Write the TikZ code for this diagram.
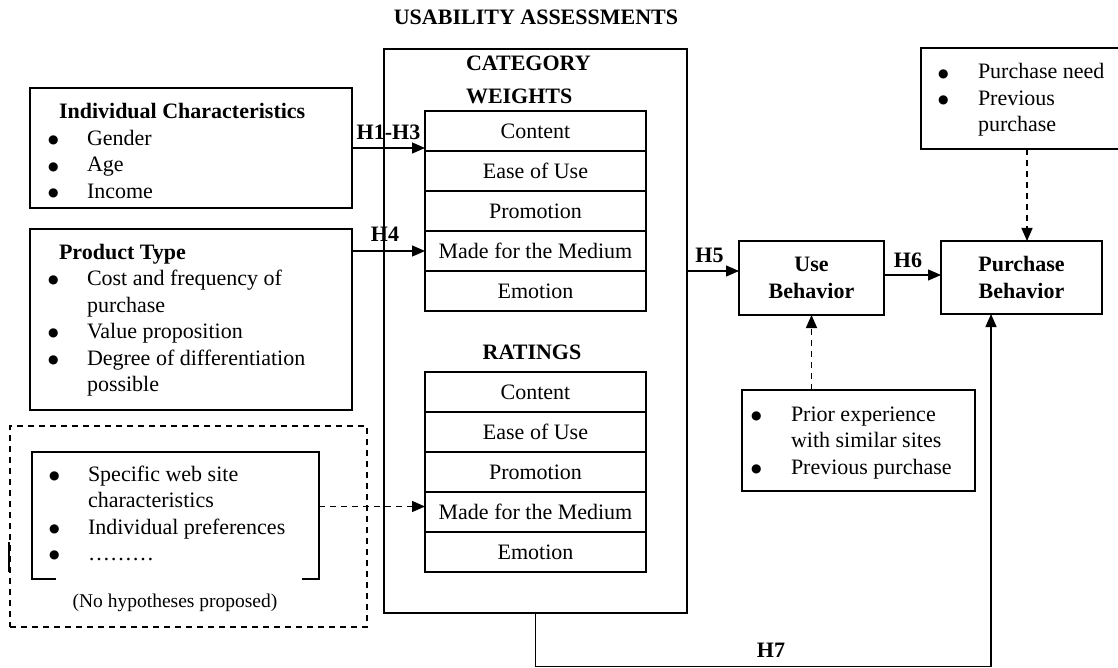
\documentclass[tikz,border=0pt]{standalone}
\usepackage{fontspec}
\setmainfont{Liberation Serif}
\newfontfamily\dotfont{DejaVu Sans}
\usetikzlibrary{arrows.meta,calc}
\newcommand{\txt}{\fontsize{22}{26.5}\selectfont}
\newcommand{\smalltxt}{\fontsize{19.5}{23}\selectfont}
\newcommand{\blt}{\raisebox{1.6pt}{\dotfont\fontsize{12}{12}\selectfont ●}}

\begin{document}
\begin{tikzpicture}[x=1pt,y=-1pt,
  every node/.style={inner sep=0pt, outer sep=0pt},
  frame/.style={draw, line width=1.3pt, anchor=north west},
  cell/.style={draw, line width=1.3pt, anchor=north west,
    minimum width=221pt, minimum height=40pt, font=\txt},
  listtxt/.style={anchor=base west, font=\txt},
  headtxt/.style={anchor=base, font=\txt\bfseries},
  arr/.style={line width=1.3pt, -{Triangle[length=13pt,width=11pt]}},
  darr/.style={arr, dash pattern=on 6pt off 5pt},
  dline/.style={line width=1.3pt, dash pattern=on 6pt off 5pt}]

\useasboundingbox (0,0) rectangle (1118,668);
\clip (0,0) rectangle (1118,668);

% title
\node[headtxt] (title) at (536,25) {USABILITY ASSESSMENTS};

% left-hand input boxes
\node[frame, minimum width=322pt, minimum height=120pt] (ind) at (30,88) {};
\node[listtxt] (indtxt) at (48,119) {\begin{tabular}[t]{@{}p{39pt}@{}l@{}}
  \multicolumn{2}{@{\hspace{11pt}}l@{}}{\bfseries Individual Characteristics}\\
  \blt & Gender\\
  \blt & Age\\
  \blt & Income
\end{tabular}};

\node[frame, minimum width=322pt, minimum height=181pt] (prod) at (30,229) {};
\node[listtxt] (prodtxt) at (48,259) {\begin{tabular}[t]{@{}p{39pt}@{}l@{}}
  \multicolumn{2}{@{\hspace{11pt}}l@{}}{\bfseries Product Type}\\
  \blt & Cost and frequency of\\
       & purchase\\
  \blt & Value proposition\\
  \blt & Degree of differentiation\\
       & possible
\end{tabular}};

% group without hypotheses
\node[draw, dline, anchor=north west, minimum width=357pt, minimum height=201pt] (hyp) at (10,426) {};
\draw[line width=1.5pt] (9,542) -- (9,572);
\node[anchor=north west, minimum width=287pt, minimum height=127pt] (inner) at (32,452) {};
\draw[line width=1.3pt] ($(inner.south west)+(24,0)$) -- (inner.south west) -- (inner.north west)
  -- (inner.north east) -- (inner.south east) -- ($(inner.south east)+(-17,0)$);
\node[listtxt] (innertxt) at (49,481) {\begin{tabular}[t]{@{}p{39pt}@{}l@{}}
  \blt & Specific web site\\
       & characteristics\\
  \blt & Individual preferences\\
  \blt & ………
\end{tabular}};
\node[anchor=base, font=\smalltxt] (nohyp) at (175,607) {(No hypotheses proposed)};

% usability assessments frame with the two tables
\node[frame, minimum width=303pt, minimum height=564pt] (ua) at (384,49) {};
\node[anchor=base west, font=\txt\bfseries] (catw) at (466,71)
  {\begin{tabular}[t]{@{}l@{}}CATEGORY\\[6.5pt]WEIGHTS\end{tabular}};
\node[cell] (w1) at (425,111) {Content};
\node[cell] (w2) at (425,151) {Ease of Use};
\node[cell] (w3) at (425,191) {Promotion};
\node[cell] (w4) at (425,231) {Made for the Medium};
\node[cell] (w5) at (425,271) {Emotion};

\node[headtxt] (rat) at (532,359) {RATINGS};
\node[cell] (r1) at (425,372) {Content};
\node[cell] (r2) at (425,412) {Ease of Use};
\node[cell] (r3) at (425,452) {Promotion};
\node[cell] (r4) at (425,492) {Made for the Medium};
\node[cell] (r5) at (425,532) {Emotion};

% behaviour boxes
\node[frame, minimum width=145pt, minimum height=74pt, align=center, font=\txt\bfseries] (use) at (739,241) {Use\\Behavior};
\node[frame, minimum width=161pt, minimum height=73pt, align=center, font=\txt\bfseries] (pb) at (941,241) {Purchase\\Behavior};

\node[frame, minimum width=233pt, minimum height=101pt] (prior) at (742,390) {};
\node[listtxt] (priortxt) at (751,421) {\begin{tabular}[t]{@{}p{40pt}@{}l@{}}
  \blt & Prior experience\\
       & with similar sites\\
  \blt & Previous purchase
\end{tabular}};

\node[frame, minimum width=210pt, minimum height=101pt] (need) at (921,48) {};
\node[listtxt] (needtxt) at (938,79) {\begin{tabular}[t]{@{}p{40pt}@{}l@{}}
  \blt & Purchase need\\
  \blt & Previous\\
       & purchase
\end{tabular}};

% connectors
\draw[arr] (ind.east) -- (ind.east -| w1.west);
\draw[arr] (w4.west -| prod.east) -- (w4.west);
\draw[darr] ([yshift=9pt]inner.east) -- ([yshift=9pt]inner.east -| r4.west);
\draw[arr] ([yshift=7pt]use.west -| ua.east) -- ([yshift=7pt]use.west);
\draw[arr] ([yshift=3pt]use.east) -- ([yshift=3pt]use.east -| pb.west);
\draw[darr] (use.south |- prior.north) -- (use.south);
\coordinate (needout) at (1027,149);
\draw[darr] (needout) -- (needout |- pb.north);
\coordinate (h7c) at (991,666.5);
\draw[arr] (ua.south) |- (h7c) -- (h7c |- pb.south);

% hypothesis labels
\node[headtxt] (h13) at (388.5,140) {H1-H3};
\node[headtxt] (h4) at (385,241) {H4};
\node[headtxt] (h5) at (709.5,262) {H5};
\node[headtxt] (h6) at (908,267) {H6};
\node[headtxt] (h7) at (771,657) {H7};
\end{tikzpicture}
\end{document}
